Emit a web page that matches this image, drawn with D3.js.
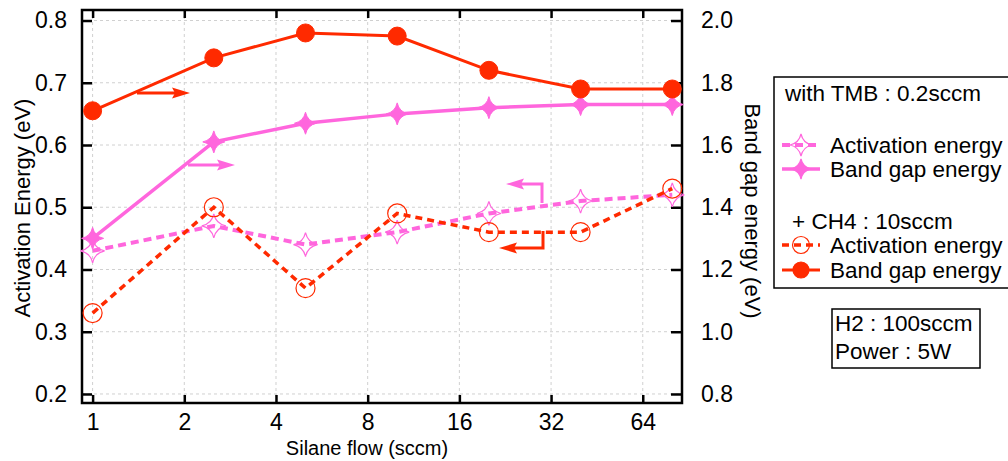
<!DOCTYPE html>
<html><head><meta charset="utf-8">
<script src="https://cdn.jsdelivr.net/npm/d3@7"></script>
<style>
body{margin:0;background:#fff;}
text{font-family:"Liberation Sans",Arial,sans-serif;fill:#000;}
</style></head>
<body><svg id="c" width="1008" height="461"></svg>
<script>
const flows = [1, 2.5, 5, 10, 20, 40, 80];
const xTicks = [1, 2, 4, 8, 16, 32, 64];
const leftTicks = [0.2, 0.3, 0.4, 0.5, 0.6, 0.7, 0.8];
const rightTicks = [0.8, 1.0, 1.2, 1.4, 1.6, 1.8, 2.0];
// Activation energy (left axis, eV)
const actTMB = [0.43, 0.47, 0.44, 0.46, 0.49, 0.51, 0.52];
const actCH4 = [0.33, 0.50, 0.37, 0.49, 0.46, 0.46, 0.53];
// Band gap energy (right axis, eV)
const gapTMB = [1.30, 1.61, 1.67, 1.70, 1.72, 1.73, 1.73];
const gapCH4 = [1.71, 1.88, 1.96, 1.95, 1.84, 1.78, 1.78];

const RED = "#ff2a00", PINK = "#ff66dd";
const svg = d3.select("#c");
const L = 82, R = 682, T = 10, B = 403;
const x = d3.scaleLog().base(2).domain([0.923, 86.1]).range([L, R]);
const yL = d3.scaleLinear().domain([0.1855, 0.8169]).range([B, T]);
const yR = d3.scaleLinear().domain([0.771, 2.0338]).range([B, T]);

// grid
const g = svg.append("g");
g.selectAll(".gx").data(xTicks).join("line")
  .attr("x1", d => x(d)).attr("x2", d => x(d)).attr("y1", T).attr("y2", B)
  .attr("stroke", "#d0d0d0").attr("stroke-dasharray", "3,3").attr("stroke-width", 1);
g.selectAll(".gy").data(leftTicks).join("line")
  .attr("y1", d => yL(d)).attr("y2", d => yL(d)).attr("x1", L).attr("x2", R)
  .attr("stroke", "#d0d0d0").attr("stroke-dasharray", "3,3").attr("stroke-width", 1);

// axes
const axL = d3.axisLeft(yL).tickValues(leftTicks).tickFormat(d3.format(".1f")).tickSizeInner(-10).tickSizeOuter(0).tickPadding(15);
const axR = d3.axisRight(yR).tickValues(rightTicks).tickFormat(d3.format(".1f")).tickSizeInner(-11).tickSizeOuter(0).tickPadding(19);
const axB = d3.axisBottom(x).tickValues(xTicks).tickFormat(d3.format("d")).tickSizeInner(-8).tickSizeOuter(0).tickPadding(11);
const axT = d3.axisTop(x).tickValues(xTicks).tickFormat("").tickSizeInner(-8).tickSizeOuter(0);
function style(sel){
  sel.select(".domain").remove();
  sel.selectAll(".tick line").attr("stroke","#000").attr("stroke-width",2.5);
  sel.selectAll(".tick text").style("font-size","23px").style("font-family","'Liberation Sans',Arial,sans-serif").attr("fill","#000");
}
svg.append("g").attr("transform",`translate(${L},0)`).call(axL).call(style);
svg.append("g").attr("transform",`translate(${R},0)`).call(axR).call(style);
svg.append("g").attr("transform",`translate(0,${B})`).call(axB).call(style);
svg.append("g").attr("transform",`translate(0,${T})`).call(axT).call(style);
svg.append("rect").attr("x",L).attr("y",T).attr("width",R-L).attr("height",B-T)
  .attr("fill","none").attr("stroke","#000").attr("stroke-width",2.5);

// titles
svg.append("text").attr("transform","translate(30,208) rotate(-90)").attr("text-anchor","middle")
  .style("font-size","22px").text("Activation Energy (eV)");
svg.append("text").attr("transform","translate(745,211) rotate(90)").attr("text-anchor","middle")
  .style("font-size","22px").text("Band gap energy (eV)");
svg.append("text").attr("x",367).attr("y",455).attr("text-anchor","middle")
  .style("font-size","20px").text("Silane flow (sccm)");

// star marker
function star(r){ const k=r*0.18; return `M0,${-r}Q${k},${-k} ${r},0Q${k},${k} 0,${r}Q${-k},${k} ${-r},0Q${-k},${-k} 0,${-r}Z`; }

// series
const series = [
  {v: actTMB, y: yL, color: PINK, dash: "8,5", w: 4, mk: "star", fill: false},
  {v: actCH4, y: yL, color: RED, dash: "7,5", w: 3.5, mk: "circle", fill: false},
  {v: gapTMB, y: yR, color: PINK, dash: null, w: 3.5, mk: "star", fill: true},
  {v: gapCH4, y: yR, color: RED, dash: null, w: 3, mk: "circle", fill: true},
];
series.forEach(s => {
  const line = d3.line().x((d,i)=>x(flows[i])).y(d=>s.y(d));
  svg.append("path").attr("d", line(s.v)).attr("fill","none").attr("stroke",s.color)
    .attr("stroke-width",s.w).attr("stroke-dasharray",s.dash);
  const m = svg.append("g").selectAll("g").data(s.v).join("g")
    .attr("transform",(d,i)=>`translate(${x(flows[i])},${s.y(d)})`);
  if (s.mk==="circle") m.append("circle").attr("r", s.fill?9:9.5)
    .attr("fill", s.fill?s.color:"none").attr("stroke",s.color).attr("stroke-width", s.fill?1:1.2);
  else m.append("path").attr("d", star(s.fill?11:12))
    .attr("fill", s.fill?s.color:"none").attr("stroke",s.color).attr("stroke-width", s.fill?1:1.2);
});

// arrows
function head(px,py,dir,color){
  const len=18, hw=5.5;
  const p = dir>0 ? `M${px},${py}L${px-len},${py-hw}L${px-len+3},${py}L${px-len},${py+hw}Z`
                  : `M${px},${py}L${px+len},${py-hw}L${px+len-3},${py}L${px+len},${py+hw}Z`;
  svg.append("path").attr("d",p).attr("fill",color);
}
svg.append("line").attr("x1",137).attr("y1",93).attr("x2",180).attr("y2",93).attr("stroke",RED).attr("stroke-width",3);
head(190,93,1,RED);
svg.append("line").attr("x1",188).attr("y1",165).attr("x2",225).attr("y2",165).attr("stroke",PINK).attr("stroke-width",3);
head(235,165,1,PINK);
svg.append("path").attr("d","M542,203L542,184L516,184").attr("fill","none").attr("stroke",PINK).attr("stroke-width",3);
head(506,184,-1,PINK);
svg.append("path").attr("d","M543,231L543,248L509,248").attr("fill","none").attr("stroke",RED).attr("stroke-width",3);
head(499,248,-1,RED);

// legend
svg.append("rect").attr("x",774).attr("y",77).attr("width",240).attr("height",211)
  .attr("fill","#fff").attr("stroke","#000").attr("stroke-width",1.5);
const fs="22.5px";
svg.append("text").attr("x",785).attr("y",101).style("font-size",fs).text("with TMB : 0.2sccm");
svg.append("text").attr("x",792).attr("y",229).style("font-size",fs).text("+ CH4 : 10sccm");
const leg = [
  {y:145, s:series[0], label:"Activation energy"},
  {y:169, s:series[2], label:"Band gap energy"},
  {y:245, s:series[1], label:"Activation energy"},
  {y:270, s:series[3], label:"Band gap energy"},
];
leg.forEach(e => {
  svg.append("line").attr("x1",782).attr("x2",820).attr("y1",e.y).attr("y2",e.y)
    .attr("stroke",e.s.color).attr("stroke-width",e.s.w).attr("stroke-dasharray",e.s.dash);
  const m = svg.append("g").attr("transform",`translate(801,${e.y})`);
  if (e.s.mk==="circle") m.append("circle").attr("r",e.s.fill?8:8.5)
    .attr("fill",e.s.fill?e.s.color:"none").attr("stroke",e.s.color).attr("stroke-width",1.2);
  else m.append("path").attr("d",star(e.s.fill?10:11)).attr("fill",e.s.fill?e.s.color:"none")
    .attr("stroke",e.s.color).attr("stroke-width",1.2);
  svg.append("text").attr("x",830).attr("y",e.y+8).style("font-size",fs).text(e.label);
});
svg.append("rect").attr("x",832).attr("y",309).attr("width",148).attr("height",59)
  .attr("fill","#fff").attr("stroke","#000").attr("stroke-width",1.5);
svg.append("text").attr("x",835).attr("y",331).style("font-size",fs).text("H2 : 100sccm");
svg.append("text").attr("x",835).attr("y",359).style("font-size",fs).text("Power : 5W");
</script></body></html>
